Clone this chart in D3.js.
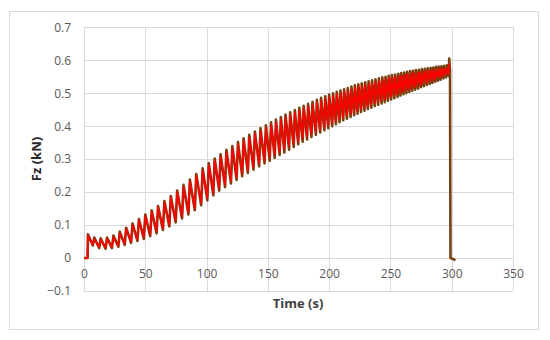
<!DOCTYPE html>
<html><head><meta charset="utf-8">
<script src="https://cdn.jsdelivr.net/npm/d3@7/dist/d3.min.js"></script>
<style>body{margin:0;background:#fff}svg{display:block}</style>
</head><body>
<svg id="c" width="550" height="340"></svg>
<script>
// ---- data ----
const xTickValues = [0, 50, 100, 150, 200, 250, 300, 350];
const xTickLabels = ["0", "50", "100", "150", "200", "250", "300", "350"];
const yTickValues = [-0.1, 0, 0.1, 0.2, 0.3, 0.4, 0.5, 0.6, 0.7];
const yTickLabels = ["\u22120.1", "0", "0.1", "0.2", "0.3", "0.4", "0.5", "0.6", "0.7"];
const xTitle = "Time (s)";
const yTitle = "Fz (kN)";

// lead-in (before first load cycle)
const startTime = [0, 2.9];
const startValue = [0, 0];

// times of each cycle's peak and the trough that follows it (s)
const peakTime = [3.2,8.4,13.6,18.8,24.0,29.2,34.4,39.6,44.8,50.0,
  55.2,60.4,65.6,70.8,76.0,81.2,86.4,91.6,96.8,101.8,
  106.6,111.4,116.2,121.0,125.6,130.2,134.8,139.4,144.0,148.4,
  152.6,156.6,160.6,164.4,168.2,172.0,175.6,179.2,182.8,186.4,
  190.0,193.4,196.8,200.0,203.2,206.2,209.2,212.2,215.2,218.2,
  221.0,223.8,226.6,229.4,232.2,235.0,237.8,240.6,243.4,246.0,
  248.6,251.2,253.8,256.4,258.8,261.2,263.6,266.0,268.4,270.8,
  273.2,275.6,278.0,280.4,282.8,285.0,287.2,289.4,291.6,293.8,
  296.0,298.0];
const troughTime = [7.2,12.4,17.6,22.8,28.0,33.2,38.4,43.6,48.8,54.0,
  59.2,64.4,69.6,74.8,80.0,85.2,90.4,95.6,100.6,105.5,
  110.3,115.1,119.9,124.5,129.1,133.7,138.3,142.9,147.3,151.5,
  155.6,159.6,163.5,167.3,171.1,174.8,178.4,182.0,185.6,189.2,
  192.7,196.1,199.3,202.5,205.5,208.5,211.5,214.5,217.5,220.4,
  223.2,226.0,228.8,231.6,234.4,237.2,240.0,242.8,245.4,248.0,
  250.6,253.2,255.8,258.2,260.6,263.0,265.4,267.8,270.2,272.6,
  275.0,277.4,279.8,282.2,284.4,286.6,288.8,291.0,293.2,295.4,
  297.5];

// brown series (kN)
const brownPeak = [0.072,0.062,0.060,0.062,0.068,0.080,0.092,0.105,0.118,0.132,
  0.145,0.158,0.173,0.188,0.205,0.222,0.238,0.255,0.272,0.288,
  0.302,0.315,0.328,0.340,0.352,0.363,0.374,0.384,0.394,0.403,
  0.412,0.420,0.428,0.435,0.442,0.449,0.456,0.462,0.468,0.474,
  0.480,0.486,0.491,0.496,0.500,0.504,0.508,0.512,0.516,0.520,
  0.524,0.527,0.530,0.533,0.536,0.539,0.542,0.545,0.548,0.550,
  0.553,0.555,0.557,0.559,0.561,0.563,0.565,0.567,0.568,0.570,
  0.571,0.573,0.574,0.576,0.577,0.578,0.580,0.581,0.582,0.583,
  0.585,0.605];
const brownTrough = [0.038,0.030,0.028,0.030,0.034,0.040,0.046,0.052,0.058,0.066,
  0.075,0.085,0.096,0.108,0.120,0.132,0.145,0.160,0.175,0.190,
  0.204,0.215,0.226,0.237,0.248,0.258,0.268,0.278,0.287,0.295,
  0.304,0.313,0.320,0.329,0.337,0.345,0.353,0.360,0.367,0.374,
  0.381,0.388,0.394,0.400,0.406,0.412,0.418,0.423,0.428,0.433,
  0.438,0.443,0.447,0.452,0.456,0.461,0.465,0.469,0.473,0.477,
  0.481,0.485,0.489,0.493,0.497,0.500,0.504,0.507,0.511,0.514,
  0.518,0.521,0.525,0.528,0.531,0.535,0.538,0.541,0.545,0.548,
  0.552];
const brownEndTime = [298.6, 299.0, 300.5, 303.0];
const brownEndValue = [0.570, 0.0, -0.002, -0.007];

// red series (kN)
const redPeak = [0.068,0.058,0.057,0.058,0.064,0.076,0.088,0.101,0.114,0.128,
  0.141,0.154,0.169,0.184,0.200,0.217,0.233,0.250,0.266,0.282,
  0.295,0.308,0.321,0.333,0.344,0.355,0.366,0.376,0.386,0.395,
  0.404,0.412,0.420,0.427,0.434,0.441,0.448,0.454,0.460,0.466,
  0.472,0.478,0.483,0.488,0.492,0.496,0.500,0.504,0.508,0.512,
  0.516,0.519,0.522,0.525,0.528,0.531,0.534,0.537,0.540,0.542,
  0.545,0.547,0.549,0.551,0.553,0.555,0.557,0.559,0.560,0.562,
  0.563,0.565,0.566,0.568,0.569,0.570,0.572,0.573,0.574,0.575,
  0.577,0.590];
const redTrough = [0.041,0.033,0.031,0.033,0.037,0.044,0.050,0.056,0.063,0.071,
  0.080,0.090,0.101,0.113,0.126,0.138,0.151,0.166,0.182,0.197,
  0.212,0.223,0.234,0.245,0.256,0.266,0.276,0.286,0.295,0.304,
  0.313,0.322,0.329,0.338,0.346,0.354,0.362,0.369,0.376,0.383,
  0.390,0.397,0.403,0.409,0.415,0.421,0.427,0.432,0.437,0.442,
  0.447,0.452,0.456,0.461,0.465,0.470,0.474,0.478,0.482,0.486,
  0.490,0.494,0.498,0.502,0.506,0.509,0.513,0.516,0.520,0.523,
  0.527,0.530,0.534,0.537,0.540,0.544,0.547,0.550,0.554,0.557,
  0.560];

// ---- build point lists from the arrays ----
function buildSeries(peaks, troughs, endT, endV) {
  const pts = startTime.map((t, i) => [t, startValue[i]]);
  peakTime.forEach((t, i) => {
    pts.push([t, peaks[i]]);
    if (i < troughs.length) pts.push([troughTime[i], troughs[i]]);
  });
  endT.forEach((t, i) => pts.push([t, endV[i]]));
  return pts;
}
const brownPts = buildSeries(brownPeak, brownTrough, brownEndTime, brownEndValue);
const redPts = buildSeries(redPeak, redTrough, [], []);

// ---- drawing ----
const svg = d3.select("#c");
const FONT = "'Open Sans', 'Noto Sans', sans-serif";
svg.append("rect").attr("width", 550).attr("height", 340).attr("fill", "#fff");
svg.append("rect").attr("x", 9.5).attr("y", 11.5).attr("width", 529).attr("height", 318)
  .attr("fill", "none").attr("stroke", "#d9d9d9").attr("stroke-width", 1);

const x = d3.scaleLinear().domain([0, 350]).range([84, 513]);
const y = d3.scaleLinear().domain([-0.1, 0.7]).range([291, 27.3]);

// gridlines
const gH = svg.append("g").attr("transform", `translate(${x(0)},0)`)
  .call(d3.axisLeft(y).tickValues(yTickValues).tickSize(-(x(350) - x(0))).tickFormat(""));
gH.select(".domain").remove();
gH.selectAll("line").attr("stroke", "#d9d9d9").attr("shape-rendering", "crispEdges");

const gV = svg.append("g").attr("transform", `translate(0,${y(-0.1)})`)
  .call(d3.axisBottom(x).tickValues(xTickValues).tickSize(-(y(-0.1) - y(0.7))).tickFormat(""));
gV.select(".domain").remove();
gV.selectAll("line").attr("stroke", "#d9d9d9").attr("shape-rendering", "crispEdges");

// y tick labels
const gY = svg.append("g").attr("transform", `translate(${x(0)},0)`)
  .call(d3.axisLeft(y).tickValues(yTickValues).tickSize(0).tickPadding(13)
    .tickFormat((d, i) => yTickLabels[i]));
gY.select(".domain").remove();
gY.selectAll("text").attr("font-family", FONT).attr("font-size", 12).attr("fill", "#595959");

// x tick labels (axis crosses at 0)
const gX = svg.append("g").attr("transform", `translate(0,${y(0)})`)
  .call(d3.axisBottom(x).tickValues(xTickValues).tickSize(0).tickPadding(11)
    .tickFormat((d, i) => xTickLabels[i]));
gX.select(".domain").remove();
gX.selectAll("text").attr("font-family", FONT).attr("font-size", 12).attr("fill", "#595959");

// series
const line = d3.line().x(d => x(d[0])).y(d => y(d[1]));
svg.append("path").datum(brownPts).attr("d", line).attr("fill", "none")
  .attr("stroke", "#7a400f").attr("stroke-width", 2.6).attr("stroke-linejoin", "round");
svg.append("path").datum(redPts).attr("d", line).attr("fill", "none")
  .attr("stroke", "#ff0000").attr("stroke-width", 1.7).attr("stroke-linejoin", "round");

// titles
svg.append("text").attr("x", 298).attr("y", 307.5).attr("text-anchor", "middle")
  .attr("font-family", FONT).attr("font-size", 13).attr("font-weight", "bold")
  .attr("fill", "#404040").text(xTitle);
svg.append("text").attr("transform", "translate(41,159) rotate(-90)")
  .attr("text-anchor", "middle")
  .attr("font-family", FONT).attr("font-size", 13).attr("font-weight", "bold")
  .attr("fill", "#262626").text(yTitle);
</script>
</body></html>
